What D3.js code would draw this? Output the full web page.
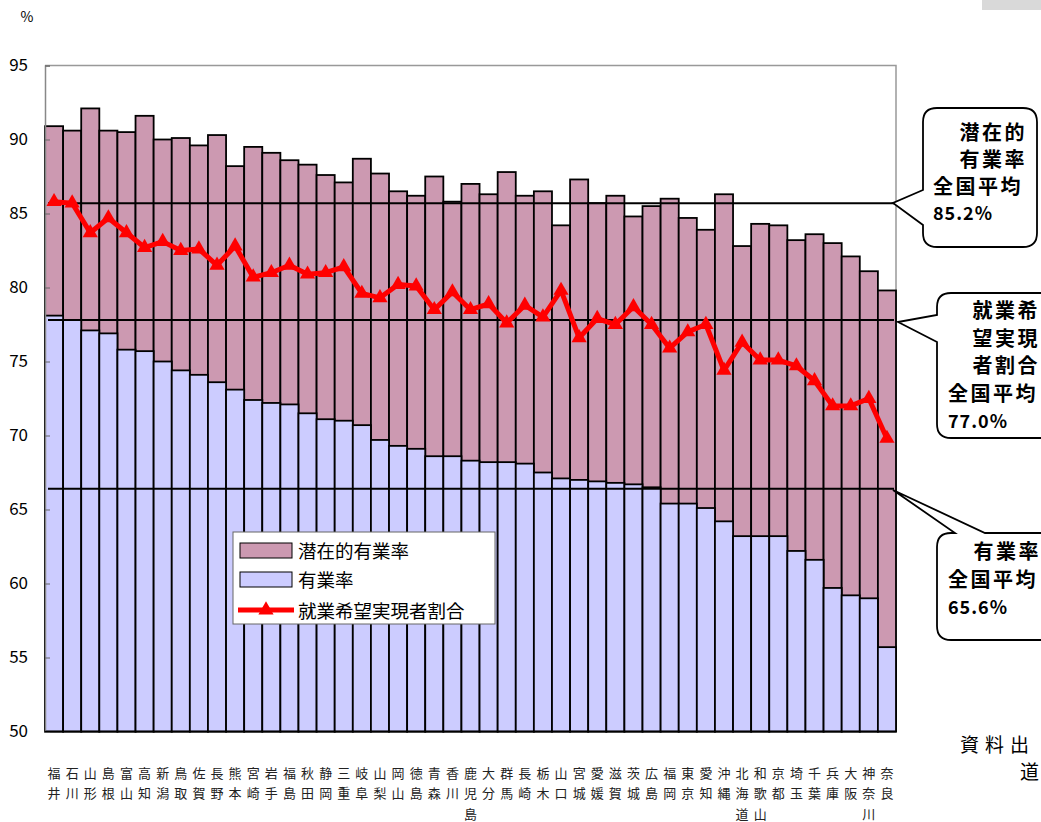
<!DOCTYPE html>
<html>
<head>
<meta charset="utf-8">
<script src="https://cdn.jsdelivr.net/npm/d3@7/dist/d3.min.js"></script>
<style>
  body { margin: 0; background: #fff; overflow: hidden; }
  svg { display: block; }
  text { font-family: "Noto Sans CJK JP", sans-serif; }
</style>
</head>
<body>
<svg id="chart" width="1041" height="822"></svg>
<script>
// prefectures, left to right
const prefectures = ["福井","石川","山形","島根","富山","高知","新潟","鳥取","佐賀","長野",
  "熊本","宮崎","岩手","福島","秋田","静岡","三重","岐阜","山梨","岡山",
  "徳島","青森","香川","鹿児島","大分","群馬","長崎","栃木","山口","宮城",
  "愛媛","滋賀","茨城","広島","福岡","東京","愛知","沖縄","北海道","和歌山",
  "京都","埼玉","千葉","兵庫","大阪","神奈川","奈良"];

// 潜在的有業率 (%)
const potentialRate = [90.9,90.6,92.1,90.6,90.5,91.6,90.0,90.1,89.6,90.3,
  88.2,89.5,89.1,88.6,88.3,87.6,87.1,88.7,87.7,86.5,
  86.2,87.5,85.8,87.0,86.3,87.8,86.2,86.5,84.2,87.3,
  85.7,86.2,84.8,85.5,86.0,84.7,83.9,86.3,82.8,84.3,
  84.2,83.2,83.6,83.0,82.1,81.1,79.8];

// 有業率 (%)
const employmentRate = [78.1,77.8,77.1,76.9,75.8,75.7,75.0,74.4,74.1,73.6,
  73.1,72.4,72.2,72.1,71.5,71.1,71.0,70.7,69.7,69.3,
  69.1,68.6,68.6,68.3,68.2,68.2,68.1,67.5,67.1,67.0,
  66.9,66.8,66.7,66.5,65.4,65.4,65.1,64.2,63.2,63.2,
  63.2,62.2,61.6,59.7,59.2,59.0,55.7];

// 就業希望実現者割合 (%)
const realizedRate = [85.8,85.7,83.7,84.7,83.7,82.7,83.1,82.5,82.6,81.5,
  82.8,80.7,81.0,81.5,80.9,81.0,81.4,79.6,79.3,80.2,
  80.1,78.5,79.7,78.5,78.9,77.6,78.8,78.0,79.8,76.6,
  77.9,77.5,78.7,77.5,75.9,77.0,77.5,74.4,76.3,75.1,
  75.1,74.7,73.7,72.0,72.0,72.5,69.8];

// national average lines, as drawn in the picture
const averageLines = [85.7, 77.8, 66.4];

const yTicks = [50,55,60,65,70,75,80,85,90,95];

const seriesNames = ["潜在的有業率", "有業率", "就業希望実現者割合"];

const svg = d3.select("#chart");

const x = d3.scaleBand().domain(prefectures).range([45, 896]).padding(0);
const y = d3.scaleLinear().domain([50, 95]).range([731.5, 65.5]);

const pink = "#cc99b1";
const blue = "#ccccff";

// plot frame (top and right)
svg.append("path")
  .attr("d", `M45,${y(95)} H896 V${y(50)}`)
  .attr("fill", "none")
  .attr("stroke", "#999")
  .attr("stroke-width", 1.5);

// pink bars (potential rate)
svg.append("g")
  .selectAll("rect")
  .data(prefectures)
  .join("rect")
  .attr("x", (d) => x(d))
  .attr("y", (d, i) => y(potentialRate[i]))
  .attr("width", x.bandwidth())
  .attr("height", (d, i) => y(50) - y(potentialRate[i]))
  .attr("fill", pink)
  .attr("stroke", "#000")
  .attr("stroke-width", 1.8);

// blue bars (employment rate)
svg.append("g")
  .selectAll("rect")
  .data(prefectures)
  .join("rect")
  .attr("x", (d) => x(d))
  .attr("y", (d, i) => y(employmentRate[i]))
  .attr("width", x.bandwidth())
  .attr("height", (d, i) => y(50) - y(employmentRate[i]))
  .attr("fill", blue)
  .attr("stroke", "#000")
  .attr("stroke-width", 1.8);

// average lines
svg.append("g")
  .selectAll("line")
  .data(averageLines)
  .join("line")
  .attr("x1", 48)
  .attr("x2", 894)
  .attr("y1", (d) => y(d))
  .attr("y2", (d) => y(d))
  .attr("stroke", "#000")
  .attr("stroke-width", 2);

// red line
const line = d3.line()
  .x((d, i) => x(prefectures[i]) + x.bandwidth() / 2)
  .y((d) => y(d));

svg.append("path")
  .datum(realizedRate)
  .attr("d", line)
  .attr("fill", "none")
  .attr("stroke", "#ff0000")
  .attr("stroke-width", 5)
  .attr("stroke-linejoin", "round");

const tri = d3.symbol().type(d3.symbolTriangle).size(100);
svg.append("g")
  .selectAll("path")
  .data(realizedRate)
  .join("path")
  .attr("d", tri)
  .attr("transform", (d, i) => `translate(${x(prefectures[i]) + x.bandwidth() / 2},${y(d)})`)
  .attr("fill", "#ff0000");

// y axis
const yAxis = svg.append("g")
  .attr("transform", "translate(45,0)")
  .call(d3.axisLeft(y).tickValues(yTicks).tickSize(-5).tickPadding(17));
yAxis.select(".domain").attr("stroke", "#888").attr("stroke-width", 1.5);
yAxis.selectAll(".tick line").attr("stroke", "#666");
yAxis.selectAll("text")
  .attr("font-family", "'Liberation Sans', Arial, sans-serif")
  .attr("font-size", 17)
  .attr("fill", "#000");

svg.append("text")
  .attr("x", 27)
  .attr("y", 22)
  .attr("text-anchor", "middle")
  .attr("font-family", "'Liberation Sans', Arial, sans-serif")
  .attr("font-size", 14)
  .text("%");

// bottom line
svg.append("line")
  .attr("x1", 45).attr("x2", 896)
  .attr("y1", y(50)).attr("y2", y(50))
  .attr("stroke", "#000").attr("stroke-width", 1.5);

// x labels, written vertically
const xLab = svg.append("g");
prefectures.forEach(function (name, i) {
  const cx = x(name) + x.bandwidth() / 2;
  Array.from(name).forEach(function (ch, k) {
    xLab.append("text")
      .attr("x", cx)
      .attr("y", 778 + k * 20.3)
      .attr("text-anchor", "middle")
      .attr("font-size", 13)
      .attr("fill", "#222")
      .text(ch);
  });
});

// legend
const legend = svg.append("g");
legend.append("rect")
  .attr("x", 233).attr("y", 532).attr("width", 262).attr("height", 92)
  .attr("fill", "#fff").attr("stroke", "#666").attr("stroke-width", 1);
legend.append("rect")
  .attr("x", 240).attr("y", 543).attr("width", 52).attr("height", 15)
  .attr("fill", pink).attr("stroke", "#000").attr("stroke-width", 1);
legend.append("rect")
  .attr("x", 240).attr("y", 572).attr("width", 52).attr("height", 15)
  .attr("fill", blue).attr("stroke", "#000").attr("stroke-width", 1);
legend.append("line")
  .attr("x1", 238).attr("x2", 294).attr("y1", 610).attr("y2", 610)
  .attr("stroke", "#ff0000").attr("stroke-width", 5);
legend.append("path")
  .attr("d", tri)
  .attr("transform", "translate(266,610)")
  .attr("fill", "#ff0000");
[551, 580, 611].forEach(function (cy, i) {
  legend.append("text")
    .attr("x", 298)
    .attr("y", cy + 6.5)
    .attr("font-size", 18.5)
    .attr("fill", "#000")
    .text(seriesNames[i]);
});

// callouts
const callouts = svg.append("g");
callouts.append("path")
  .attr("d", "M937,108 H1023 Q1037,108 1037,122 V233 Q1037,247 1023,247 H937 Q923,247 923,233 V225 L893,203 L923,190 V122 Q923,108 937,108 Z")
  .attr("fill", "#fff").attr("stroke", "#000").attr("stroke-width", 1.8);
callouts.append("path")
  .attr("d", "M951,293 H1060 V438 H951 Q937,438 937,424 V342 L898,322 L937,315 V307 Q937,293 951,293 Z")
  .attr("fill", "#fff").attr("stroke", "#000").attr("stroke-width", 1.8);
callouts.append("path")
  .attr("d", "M951,533 H955 L893,490 L985,533 H1060 V640 H951 Q937,640 937,626 V547 Q937,533 951,533 Z")
  .attr("fill", "#fff").attr("stroke", "#000").attr("stroke-width", 1.8);

function calloutText(str, xPos, cy, anchor, mono) {
  callouts.append("text")
    .attr("x", xPos)
    .attr("y", cy + 7)
    .attr("text-anchor", anchor)
    .attr("font-size", mono ? 18 : 20)
    .attr("font-weight", "bold")
    .attr("font-family", mono ? "'DejaVu Sans Mono', monospace" : "'Noto Sans CJK JP', sans-serif")
    .attr("letter-spacing", mono ? 1 : 2.5)
    .attr("fill", "#000")
    .text(str);
}
calloutText("潜在的", 1027, 133, "end", false);
calloutText("有業率", 1027, 160, "end", false);
calloutText("全国平均", 933, 187, "start", false);
calloutText("85.2%", 933, 213, "start", true);

calloutText("就業希", 1040, 311, "end", false);
calloutText("望実現", 1040, 339, "end", false);
calloutText("者割合", 1040, 366, "end", false);
calloutText("全国平均", 948, 394, "start", false);
calloutText("77.0%", 948, 421, "start", true);

calloutText("有業率", 1041, 552, "end", false);
calloutText("全国平均", 948, 580, "start", false);
calloutText("65.6%", 948, 607, "start", true);

// top right grey box
svg.append("rect")
  .attr("x", 982).attr("y", 0).attr("width", 60).attr("height", 10)
  .attr("fill", "#d9d9d9");

// source note (only the part that shows in the picture)
svg.append("text")
  .attr("x", 960).attr("y", 752)
  .attr("font-size", 19)
  .attr("letter-spacing", 6)
  .attr("fill", "#000")
  .text("資料出");
svg.append("text")
  .attr("x", 1020).attr("y", 779)
  .attr("font-size", 19)
  .attr("fill", "#000")
  .text("道");
</script>
</body>
</html>
